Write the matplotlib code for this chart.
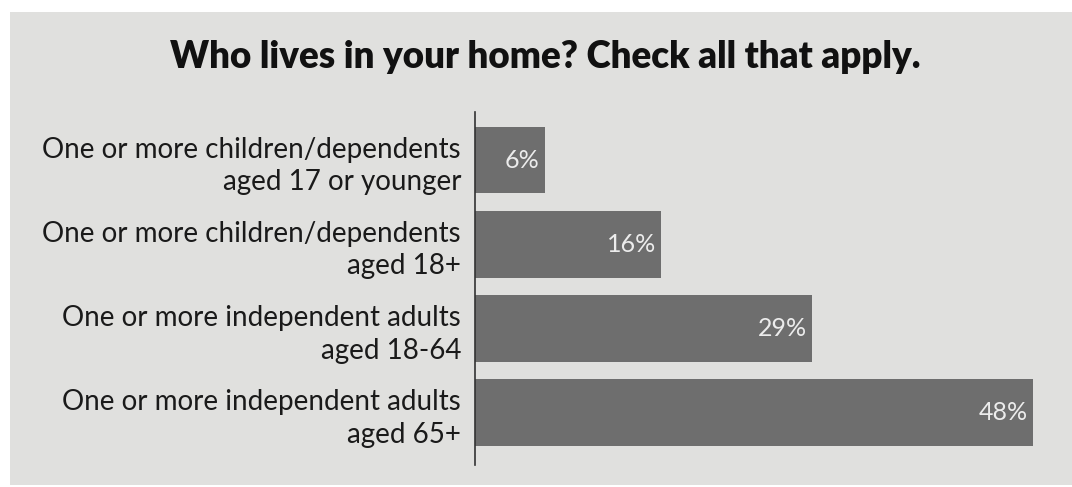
import matplotlib
matplotlib.use("Agg")
import matplotlib.pyplot as plt
from matplotlib.patches import Rectangle

categories = [
    "One or more children/dependents\naged 17 or younger",
    "One or more children/dependents\naged 18+",
    "One or more independent adults\naged 18-64",
    "One or more independent adults\naged 65+",
]
values = [6, 16, 29, 48]
value_labels = ["6%", "16%", "29%", "48%"]
title = "Who lives in your home? Check all that apply."

bg = "#e0e0de"
bar_color = "#6e6e6e"

fig = plt.figure(figsize=(10.72, 4.87), dpi=100)
fig.patch.set_facecolor("white")
# paper panel
fig.add_artist(Rectangle((10 / 1072, 0.005), 1.0, 1 - 12 / 487 - 0.005,
                         transform=fig.transFigure, facecolor=bg,
                         edgecolor="none", zorder=0))

ax = fig.add_axes([475 / 1072, 1 - 465 / 487, 597 / 1072, (465 - 112) / 487])
ax.set_facecolor("none")
ypos = list(range(len(categories)))
ax.barh(ypos, values, height=0.79, color=bar_color, zorder=2)
ax.set_xlim(0, 48 * 597 / 558)
ax.set_ylim(3.62, -0.57)

for y, v, lab in zip(ypos, values, value_labels):
    ax.text(v - 0.45, y, lab, ha="right", va="center", color="#ececec",
            fontsize=18, family="Lato", zorder=3)

ax.set_yticks(ypos)
ax.set_yticklabels(categories, family="Lato", fontsize=20, color="#1a1a1a",
                   linespacing=1.32)
ax.tick_params(axis="y", length=0, pad=10)
ax.set_xticks([])
for side in ["top", "right", "bottom"]:
    ax.spines[side].set_visible(False)
ax.spines["left"].set_color("#333333")
ax.spines["left"].set_linewidth(1.2)

fig.text(545 / 1072, 1 - 57 / 487, title, ha="center", va="center",
         fontsize=26.5, fontweight="heavy", family="Lato", color="#111111")

fig.savefig("out.png", dpi=100, facecolor=fig.get_facecolor())
